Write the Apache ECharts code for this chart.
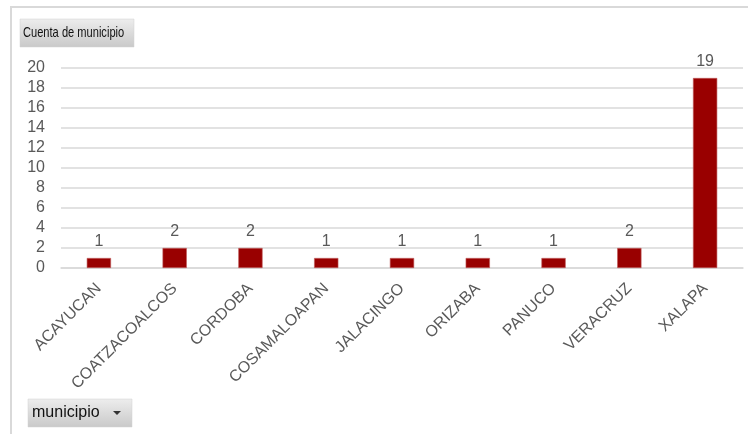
<!DOCTYPE html>
<html>
<head>
<meta charset="utf-8">
<script src="https://cdn.jsdelivr.net/npm/echarts@6/dist/echarts.min.js"></script>
<style>
html,body{margin:0;padding:0;background:#fff;}
#c{width:748px;height:434px;}
</style>
</head>
<body>
<div id="c"></div>
<script>
var categories = ['ACAYUCAN','COATZACOALCOS','CORDOBA','COSAMALOAPAN','JALACINGO','ORIZABA','PANUCO','VERACRUZ','XALAPA'];
var counts = [1,2,2,1,1,1,1,2,19];
var yTicks = [0,2,4,6,8,10,12,14,16,18,20];
var titleText = 'Cuenta de municipio';
var fieldText = 'municipio';

var FONT = '"Liberation Sans", Arial, sans-serif';
var TXT = '#595959';
var chart = echarts.init(document.getElementById('c'));
var btnGrad = new echarts.graphic.LinearGradient(0,0,0,1,[
  {offset:0,color:'#ededed'},{offset:1,color:'#c9c9c9'}]);
chart.setOption({
  backgroundColor:'#ffffff',
  animation:false,
  grid:{left:61,right:5,top:68,bottom:166},
  xAxis:{
    type:'category',
    data:categories,
    axisLine:{lineStyle:{color:'#d9d9d9',width:1.5}},
    axisTick:{show:false},
    axisLabel:{rotate:45,margin:18,color:TXT,fontFamily:FONT,fontSize:16,interval:0}
  },
  yAxis:{
    type:'value',
    min:yTicks[0],
    max:yTicks[yTicks.length-1],
    interval:2,
    axisLine:{show:false},
    axisTick:{show:false},
    splitLine:{lineStyle:{color:'#d9d9d9',width:1.5}},
    axisLabel:{color:TXT,fontFamily:FONT,fontSize:16,margin:16}
  },
  series:[{
    type:'bar',
    data:counts,
    barWidth:'32%',
    itemStyle:{color:'#990000',borderColor:'#c05a5a',borderWidth:0.6},
    label:{show:true,position:'top',distance:8,color:TXT,fontFamily:FONT,fontSize:16}
  }],
  graphic:[
    {type:'line',shape:{x1:10,y1:7,x2:748,y2:7},style:{stroke:'#d9d9d9',lineWidth:2},silent:true},
    {type:'line',shape:{x1:11,y1:7,x2:11,y2:434},style:{stroke:'#d9d9d9',lineWidth:2},silent:true},
    {type:'rect',shape:{x:20,y:19,width:114,height:28},style:{fill:btnGrad,stroke:'#d0d0d0',lineWidth:0.5}},
    {type:'text',x:23,y:25,scaleX:0.74,style:{text:titleText,fill:'#111',font:'15px '+FONT}},
    {type:'rect',shape:{x:28,y:399,width:104,height:28},style:{fill:btnGrad,stroke:'#d0d0d0',lineWidth:0.5}},
    {type:'text',x:32,y:405,style:{text:fieldText,fill:'#111',font:'16px '+FONT}},
    {type:'polygon',shape:{points:[[113,411],[121,411],[117,415]]},style:{fill:'#333'}}
  ]
});
</script>
</body>
</html>
